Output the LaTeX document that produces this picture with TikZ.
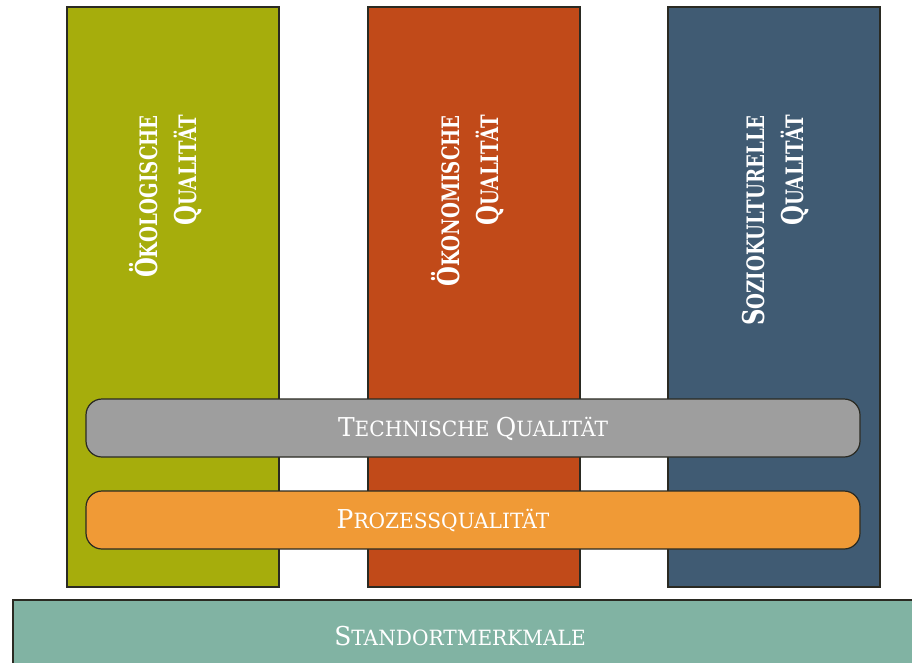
\documentclass[tikz,border=0pt]{standalone}
\usepackage{fontspec}
\setmainfont{DejaVu Serif}
\definecolor{cgreen}{HTML}{A6AD0C}
\definecolor{cred}{HTML}{C14A19}
\definecolor{cblue}{HTML}{405B73}
\definecolor{cgray}{HTML}{9E9E9E}
\definecolor{corange}{HTML}{F09A36}
\definecolor{cteal}{HTML}{81B3A3}
\definecolor{cline}{HTML}{2A2A22}
\newcommand\CpB[1]{{\fontsize{30}{40}\selectfont#1}}
\newcommand\CpH[1]{{\fontsize{26}{30}\selectfont#1}}
\newcommand\ColLabel[2]{\scalebox{0.76}[1]{\begin{tabular}{@{}r@{}}#1\\#2\end{tabular}}}
\newcommand\BarLabel[1]{\scalebox{0.96}[1]{#1}}
\begin{document}
\begin{tikzpicture}[x=1pt,y=-1pt,
  column/.style={draw=cline, line width=1.2pt, minimum width=212pt, minimum height=580pt, inner sep=0pt},
  bar/.style={draw=cline, line width=1.2pt, rounded corners=16pt, minimum width=774pt, minimum height=58pt, inner sep=0pt},
  coltext/.style={rotate=90, anchor=east, inner sep=0pt, text=white, font=\bfseries\fontsize{24}{39}\selectfont},
  bartext/.style={inner sep=0pt, text=white, font=\fontsize{21}{30}\selectfont}
]
\useasboundingbox (0,0) rectangle (912,662);
\fill[white] (0,0) rectangle (912,662);
\node[column, fill=cgreen] (eco) at (173,297) {};
\node[column, fill=cred] (oek) at (474,297) {};
\node[column, fill=cblue] (soz) at (774,297) {};
\node[coltext] (ecot) at (169,115) {\ColLabel{\CpB{Ö}KOLOGISCHE}{\CpB{Q}UALITÄT}};
\node[coltext] (oekt) at (471,115) {\ColLabel{\CpB{Ö}KONOMISCHE}{\CpB{Q}UALITÄT}};
\node[coltext] (sozt) at (776,115) {\ColLabel{\CpB{S}OZIOKULTURELLE}{\CpB{Q}UALITÄT}};
\node[bar, fill=cgray] (tech) at (473,428) {};
\node[bar, fill=corange] (proz) at (473,520) {};
\node[bartext] (techt) at (473,429) {\BarLabel{\CpH{T}ECHNISCHE \CpH{Q}UALITÄT}};
\node[bartext] (prozt) at (443,521) {\BarLabel{\CpH{P}ROZESSQUALITÄT}};
\node[draw=cline, line width=1.2pt, fill=cteal, minimum width=917pt, minimum height=80pt, inner sep=0pt] (stand) at (471.5,640) {};
\node[bartext] (standt) at (460,636) {\BarLabel{\CpH{S}TANDORTMERKMALE}};
\end{tikzpicture}
\end{document}
